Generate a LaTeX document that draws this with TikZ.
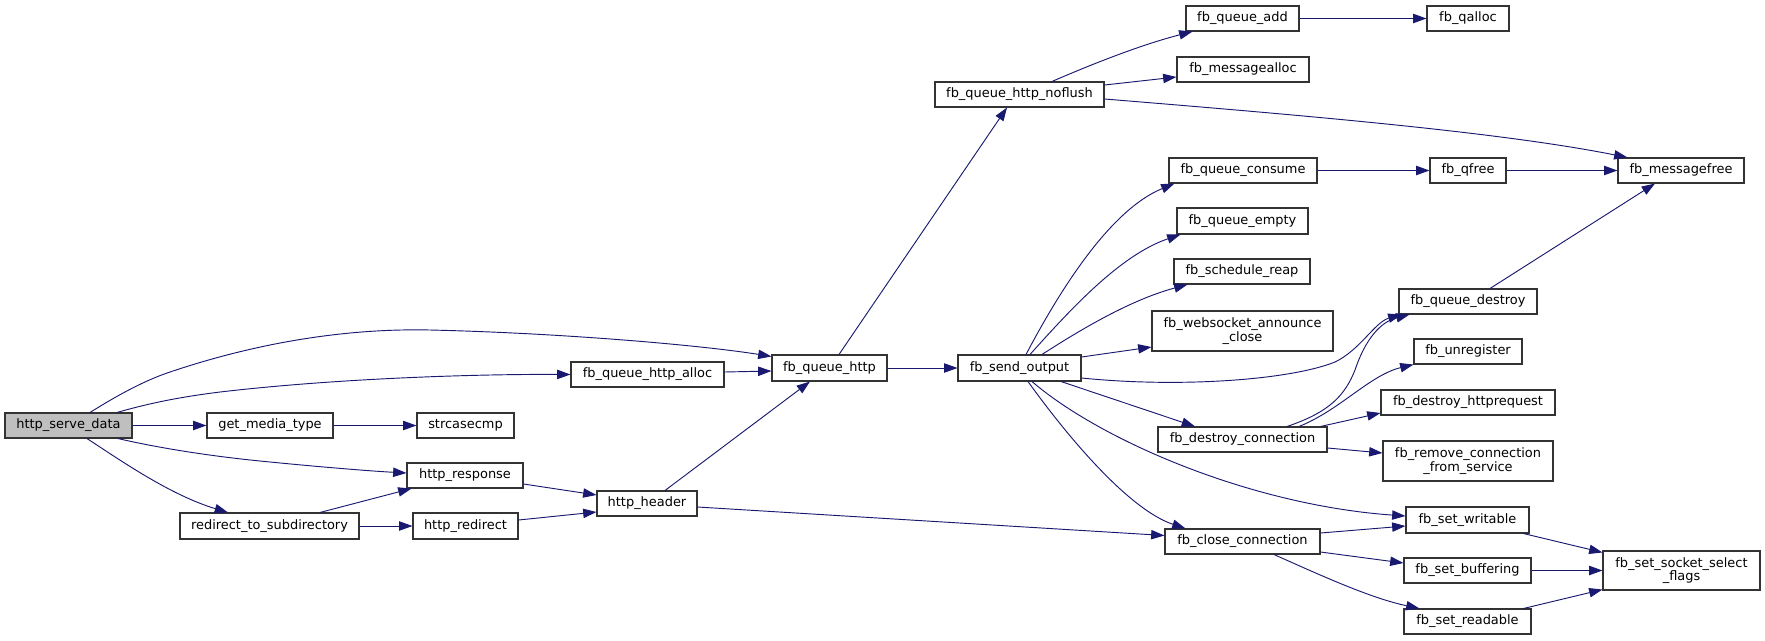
\documentclass[tikz,border=0pt]{standalone}
\usepackage{fontspec}
\setmainfont{DejaVu Sans}
\usetikzlibrary{arrows.meta,calc}

\definecolor{edgeblue}{HTML}{191970}
\definecolor{rootgray}{HTML}{BFBFBF}
\definecolor{boxline}{HTML}{333333}

\newcommand{\fnfont}{\fontsize{9.7pt}{10pt}\selectfont}

% box from its corners (x1,y1) (x2,y2), in pixels of the graph
\newcommand{\fnnode}[7][]{%
  \pgfmathsetmacro{\fncx}{(#3+#5)/2}%
  \pgfmathsetmacro{\fncy}{(#4+#6)/2}%
  \pgfmathsetmacro{\fnw}{(#5-#3)*0.75}%
  \pgfmathsetmacro{\fnh}{(#6-#4)*0.75}%
  \node[fnbox,#1,minimum width=\fnw pt,minimum height=\fnh pt] (#2) at (\fncx,\fncy) {#7};}

\tikzset{
  fnbox/.style={draw=boxline,fill=white,line width=0.8pt,inner sep=0pt,align=center,font=\fnfont},
  rootbox/.style={fnbox,fill=rootgray},
  call/.style={draw=edgeblue,line width=0.7pt,-{Triangle[length=10pt,width=7pt]}},
}

\begin{document}
\begin{tikzpicture}[x=0.75pt,y=-0.75pt]
    \useasboundingbox (0,0) rectangle (1765,640);
    % functions
    \fnnode[rootbox]{serve}{5}{413}{132}{438}{http\_serve\_data}
    \fnnode{media}{207}{413}{333}{438}{get\_media\_type}
    \fnnode{strcase}{417}{413}{514}{438}{strcasecmp}
    \fnnode{response}{407}{463}{523}{488}{http\_response}
    \fnnode{redirsub}{180}{513}{359}{539}{redirect\_to\_subdirectory}
    \fnnode{redirect}{413}{513}{518}{539}{http\_redirect}
    \fnnode{qhttpalloc}{571}{362}{724}{387}{fb\_queue\_http\_alloc}
    \fnnode{qhttp}{772}{355}{887}{381}{fb\_queue\_http}
    \fnnode{header}{597}{491}{697}{516}{http\_header}
    \fnnode{sendout}{958}{355}{1081}{381}{fb\_send\_output}
    \fnnode{noflush}{935}{82}{1104}{107}{fb\_queue\_http\_noflush}
    \fnnode{qadd}{1186}{6}{1299}{31}{fb\_queue\_add}
    \fnnode{msgalloc}{1177}{57}{1309}{82}{fb\_messagealloc}
    \fnnode{qalloc}{1427}{6}{1509}{31}{fb\_qalloc}
    \fnnode{consume}{1169}{158}{1317}{183}{fb\_queue\_consume}
    \fnnode{qfree}{1430}{158}{1506}{183}{fb\_qfree}
    \fnnode{msgfree}{1618}{158}{1744}{183}{fb\_messagefree}
    \fnnode{qempty}{1177}{208}{1308}{234}{fb\_queue\_empty}
    \fnnode{reap}{1174}{259}{1310}{284}{fb\_schedule\_reap}
    \fnnode{wsclose}{1152}{311}{1333}{351}{fb\_websocket\_announce\\\_close}
    \fnnode{qdestroy}{1399}{289}{1537}{314}{fb\_queue\_destroy}
    \fnnode{unreg}{1414}{339}{1522}{364}{fb\_unregister}
    \fnnode{httpreq}{1381}{390}{1555}{415}{fb\_destroy\_httprequest}
    \fnnode{remconn}{1383}{441}{1553}{481}{fb\_remove\_connection\\\_from\_service}
    \fnnode{destroyconn}{1158}{427}{1327}{452}{fb\_destroy\_connection}
    \fnnode{writable}{1406}{507}{1529}{533}{fb\_set\_writable}
    \fnnode{closeconn}{1165}{529}{1320}{554}{fb\_close\_connection}
    \fnnode{buffering}{1404}{558}{1531}{583}{fb\_set\_buffering}
    \fnnode{readable}{1404}{609}{1531}{634}{fb\_set\_readable}
    \fnnode{flags}{1603}{551}{1760}{590}{fb\_set\_socket\_select\\\_flags}

    % http side
    \draw[call] ($(serve.north)+(21.5,0)$) .. controls (110,400) and (140,382) .. (170,372) .. controls (250,345) and (340,328) .. (430,330) .. controls (560,333) and (700,345) .. ($(qhttp.north west)+(0,2)$);
    \draw[call] ($(serve.north)+(48.5,0)$) .. controls (150,403) and (180,397) .. (220,392) .. controls (340,378) and (480,374) .. (qhttpalloc.west);
    \draw[call] (serve) -- (media);
    \draw[call] (media) -- (strcase);
    \draw[call] ($(serve.south)+(49.5,0)$) .. controls (150,446) and (200,455) .. (260,461) .. controls (320,467) and (370,471) .. ($(response.west)+(0,-2.5)$);
    \draw[call] ($(serve.south)+(18.5,0)$) .. controls (120,460) and (170,495) .. ($(redirsub.north)+(-41.5,0)$);
    \draw[call] ($(redirsub.north)+(50.5,0)$) -- ($(response.south west)+(5,0)$);
    \draw[call] (redirsub) -- (redirect);
    \draw[call] ($(response.east)+(0,8.5)$) -- ($(header.west)+(0,-8.5)$);
    \draw[call] ($(redirect.east)+(0,-6)$) -- ($(header.west)+(0,8.5)$);
    \draw[call] ($(qhttpalloc.east)+(0,-2.5)$) -- ($(qhttp.west)+(0,3)$);
    \draw[call] ($(header.north)+(18,0)$) -- ($(qhttp.south)+(-19.5,0)$);
    \draw[call] (qhttp) -- (sendout);
    \draw[call] ($(qhttp.north)+(9.5,0)$) -- ($(noflush.south)+(-12.5,0)$);
    \draw[call] ($(header.east)+(0,3.5)$) -- ($(closeconn.west)+(0,-6)$);

    % queue
    \draw[call] ($(noflush.north)+(32.5,0)$) .. controls (1090,65) and (1140,45) .. ($(qadd.south west)+(7,0)$);
    \draw[call] ($(noflush.east)+(0,-9.5)$) -- ($(msgalloc.west)+(0,7.5)$);
    \draw[call] ($(noflush.east)+(0,4.5)$) .. controls (1300,115) and (1500,132) .. ($(msgfree.north west)+(10,0)$);
    \draw[call] (qadd) -- (qalloc);
    \draw[call] (consume) -- (qfree);
    \draw[call] (qfree) -- (msgfree);
    \draw[call] ($(qdestroy.north)+(22,0)$) -- ($(msgfree.south)+(-26,0)$);

    % fb_send_output
    \draw[call] ($(sendout.north)+(6.5,0)$) .. controls (1060,290) and (1110,210) .. ($(consume.south west)+(6,0)$);
    \draw[call] ($(sendout.north)+(10.5,0)$) .. controls (1070,310) and (1120,255) .. ($(qempty.south west)+(4,0)$);
    \draw[call] ($(sendout.north)+(22.5,0)$) .. controls (1080,330) and (1130,300) .. ($(reap.south west)+(14,0)$);
    \draw[call] ($(sendout.east)+(0,-11)$) -- ($(wsclose.west)+(0,16)$);
    \draw[call] ($(sendout.east)+(0,10)$) .. controls (1180,388) and (1290,380) .. (1335,362) .. controls (1360,350) and (1375,322) .. ($(qdestroy.south west)+(3,0)$);
    \draw[call] ($(sendout.south)+(41.5,0)$) -- ($(destroyconn.north)+(-47.5,0)$);
    \draw[call] ($(sendout.south)+(12.5,0)$) .. controls (1100,440) and (1250,505) .. ($(writable.west)+(0,-4)$);
    \draw[call] ($(sendout.south)+(8.5,0)$) .. controls (1070,440) and (1130,510) .. ($(closeconn.north)+(-57,0)$);

    % connections
    \draw[call] ($(destroyconn.north)+(44.5,0)$) .. controls (1330,412) and (1345,395) .. (1355,370) .. controls (1365,340) and (1380,322) .. ($(qdestroy.south west)+(11,0)$);
    \draw[call] ($(destroyconn.north)+(56.5,0)$) .. controls (1340,410) and (1370,375) .. (unreg.south west);
    \draw[call] ($(destroyconn.north east)+(-7,0)$) -- ($(httpreq.west)+(0,10.5)$);
    \draw[call] ($(destroyconn.east)+(0,8.5)$) -- ($(remconn.west)+(0,-8)$);
    \draw[call] ($(closeconn.east)+(0,-8.5)$) -- ($(writable.west)+(0,6)$);
    \draw[call] ($(closeconn.east)+(0,10.5)$) -- ($(buffering.west)+(0,-7.5)$);
    \draw[call] ($(closeconn.south)+(31.5,0)$) .. controls (1320,575) and (1370,598) .. ($(readable.north west)+(16,0)$);
    \draw[call] ($(writable.south east)+(-6,0)$) -- ($(flags.north west)+(0,2)$);
    \draw[call] (buffering) -- (flags);
    \draw[call] ($(readable.north east)+(-8,0)$) -- ($(flags.south west)+(0,-1)$);
\end{tikzpicture}
\end{document}
